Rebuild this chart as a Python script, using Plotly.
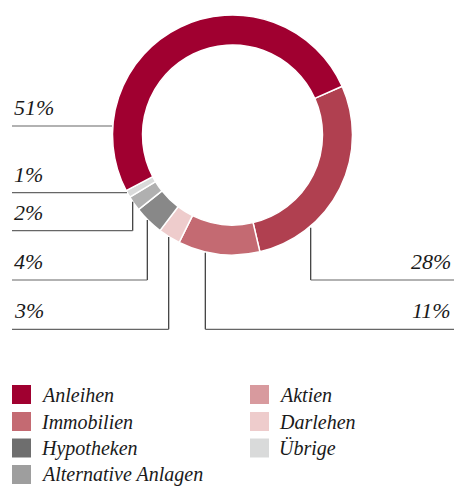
import plotly.graph_objects as go

# Data (clockwise order starting at the 28% slice)
slice_names = ["Segment 28%", "Immobilien", "Darlehen", "Hypotheken", "Alternative Anlagen", "Übrige", "Anleihen"]
slice_values = [28, 11, 3, 4, 2, 1, 51]
slice_colors = ["#B04050", "#C46A72", "#EECCCC", "#888888", "#B0B0B0", "#D9DADA", "#A00030"]
slice_labels = ["28%", "11%", "3%", "4%", "2%", "1%", "51%"]

legend_left = ["Anleihen", "Immobilien", "Hypotheken", "Alternative Anlagen"]
legend_left_colors = ["#A00030", "#C46A72", "#6E6E6E", "#9E9E9E"]
legend_right = ["Aktien", "Darlehen", "Übrige"]
legend_right_colors = ["#D89A9E", "#EECCCC", "#D9DADA"]

W, H = 454, 486
FONT = "Liberation Serif"

def px(x):
    return x / W

def py(y):
    return 1 - y / H

fig = go.Figure()
fig.add_trace(go.Pie(
    values=slice_values,
    labels=slice_names,
    marker=dict(colors=slice_colors, line=dict(color="white", width=1.5)),
    hole=0.75,
    sort=False,
    direction="clockwise",
    rotation=66,
    textinfo="none",
    hoverinfo="none",
    showlegend=False,
    domain=dict(x=[px(112.5), px(352.5)], y=[py(255), py(15)]),
))

shapes = []
annotations = []

# leader lines: polylines in pixel coords, label anchored at the line end
leaders = [
    ([(112, 126), (12, 126)], slice_labels[6], 12, "left"),
    ([(127, 192.7), (12, 192.7)], slice_labels[5], 12, "left"),
    ([(132.7, 201.7), (132.7, 230.7), (12, 230.7)], slice_labels[4], 12, "left"),
    ([(147.3, 220), (147.3, 280), (12, 280)], slice_labels[3], 12, "left"),
    ([(168.7, 237), (168.7, 329.3), (12, 329.3)], slice_labels[2], 12, "left"),
    ([(205.3, 252.7), (205.3, 329.3), (454, 329.3)], slice_labels[1], 453, "right"),
    ([(310.7, 227.7), (310.7, 280), (454, 280)], slice_labels[0], 453, "right"),
]
for pts, text, tx, align in leaders:
    for (x0, y0), (x1, y1) in zip(pts[:-1], pts[1:]):
        vertical = abs(x0 - x1) < 0.01
        shapes.append(dict(type="line", xref="paper", yref="paper",
                           x0=px(x0), y0=py(y0), x1=px(x1), y1=py(y1),
                           line=dict(color="#333333" if vertical else "#666666", width=1.2)))
    ly = pts[-1][1]
    annotations.append(dict(text=f"<i>{text}</i>", xref="paper", yref="paper",
                            x=px(tx), y=py(ly - 4), xanchor=align, yanchor="bottom",
                            showarrow=False,
                            font=dict(family=FONT, size=22, color="#1a1a1a")))

# manual legend
row_tops = [385, 412, 438.5, 465]
def add_legend(names, colors, sx, tx):
    for i, (n, c) in enumerate(zip(names, colors)):
        t = row_tops[i]
        shapes.append(dict(type="rect", xref="paper", yref="paper",
                           x0=px(sx), x1=px(sx + 19), y0=py(t + 19), y1=py(t),
                           fillcolor=c, line=dict(width=0)))
        annotations.append(dict(text=f"<i>{n}</i>", xref="paper", yref="paper",
                                x=px(tx), y=py(t + 9.5), xanchor="left", yanchor="middle",
                                showarrow=False,
                                font=dict(family=FONT, size=20, color="#1a1a1a")))

add_legend(legend_left, legend_left_colors, 12, 39)
add_legend(legend_right, legend_right_colors, 250, 277)

fig.update_layout(
    width=W, height=H,
    margin=dict(l=0, r=0, t=0, b=0),
    paper_bgcolor="white", plot_bgcolor="white",
    shapes=shapes, annotations=annotations,
)
fig.write_html("out.html", config={"displayModeBar": False},
               post_script="document.body.style.margin='0px';document.body.style.overflow='hidden';")
